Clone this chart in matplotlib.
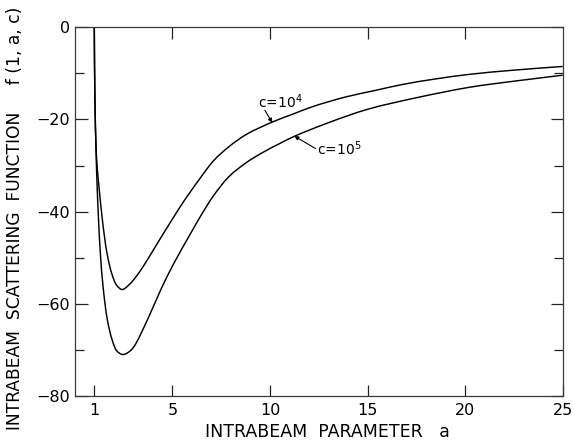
import matplotlib
matplotlib.use("Agg")
import numpy as np
import matplotlib.pyplot as plt
from matplotlib.path import Path
from matplotlib.patches import PathPatch
from matplotlib.ticker import FixedLocator

plt.rcParams['font.family'] = ['DejaVu Sans']

# f(1, a, c) versus intrabeam parameter a, for two values of c
a_c1e4 = [1.00, 1.03, 1.10, 1.16, 1.25, 1.42, 1.65, 1.90, 2.15, 2.43,
          2.75, 3.05, 3.38, 3.80, 4.23, 4.65, 5.08, 5.50, 5.94, 6.50,
          7.10, 7.90, 8.81, 10.1, 11.2, 12.2, 13.9, 15.4, 16.8, 18.5,
          20.25, 22.5, 25.0]
f_c1e4 = [0.0, -15.0, -27.0, -31.0, -35.0, -42.0, -49.0, -53.5, -56.0, -56.9,
          -56.0, -54.6, -52.7, -49.9, -46.9, -44.0, -41.1, -38.3, -35.6, -32.3,
          -29.0, -25.9, -23.2, -20.6, -18.8, -17.2, -15.1, -13.7, -12.4, -11.2,
          -10.2, -9.3, -8.5]

a_c1e5 = [1.00, 1.03, 1.09, 1.15, 1.22, 1.31, 1.45, 1.67, 1.92, 2.15,
          2.45, 2.75, 3.03, 3.72, 4.40, 5.08, 5.94, 6.50, 7.10, 7.90,
          8.81, 9.70, 10.51, 11.28, 13.0, 15.0, 17.6, 20.25, 22.5, 25.0]
f_c1e5 = [0.0, -15.0, -27.0, -35.0, -42.0, -49.0, -56.3, -63.5, -67.9, -70.2,
          -71.0, -70.5, -69.3, -63.5, -57.0, -51.2, -44.7, -40.6, -36.6, -32.4,
          -29.3, -27.0, -25.2, -23.6, -20.7, -17.8, -15.2, -13.0, -11.7, -10.4]

x_ticks = [1, 5, 10, 15, 20, 25]
x_top_ticks = [5, 10, 15, 20]
y_major = [0, -20, -40, -60, -80]
y_minor = [-10, -30, -50, -70]


def smooth_path(xs, ys, sx, sy):
    """Centripetal Catmull-Rom curve through the points, as a Bezier Path."""
    p = np.column_stack([np.asarray(xs) * sx, np.asarray(ys) * sy])
    ext = np.vstack([2 * p[0] - p[1], p, 2 * p[-1] - p[-2]])
    verts = [p[0]]
    codes = [Path.MOVETO]
    for i in range(1, len(ext) - 2):
        p0, p1, p2, p3 = ext[i - 1], ext[i], ext[i + 1], ext[i + 2]
        d1 = max(np.linalg.norm(p1 - p0), 1e-9) ** 0.5
        d2 = max(np.linalg.norm(p2 - p1), 1e-9) ** 0.5
        d3 = max(np.linalg.norm(p3 - p2), 1e-9) ** 0.5
        b1 = (d1 ** 2 * p2 - d2 ** 2 * p0 + (2 * d1 ** 2 + 3 * d1 * d2 + d2 ** 2) * p1) \
            / (3 * d1 * (d1 + d2))
        b2 = (d3 ** 2 * p1 - d2 ** 2 * p3 + (2 * d3 ** 2 + 3 * d3 * d2 + d2 ** 2) * p2) \
            / (3 * d3 * (d3 + d2))
        verts += [b1, b2, p2]
        codes += [Path.CURVE4] * 3
    verts = np.array(verts) / np.array([sx, sy])
    return Path(verts, codes)


fig = plt.figure(figsize=(5.73, 4.40), dpi=100)
ax = fig.add_axes([0.1305, 0.100, 0.8515, 0.838])
ax.set_xlim(0, 25)
ax.set_ylim(-80, 0)

# pixel-per-unit factors so the curve smoothing is done in an isotropic space
px_x, px_y = 19.5, 4.61
for xs, ys in [(a_c1e4, f_c1e4), (a_c1e5, f_c1e5)]:
    ax.add_patch(PathPatch(smooth_path(xs, ys, px_x, px_y), fill=False,
                           edgecolor='black', lw=1.05, joinstyle='round'))

ax.xaxis.set_major_locator(FixedLocator(x_ticks))
ax.set_xticklabels([str(t) for t in x_ticks])
ax.yaxis.set_major_locator(FixedLocator(y_major))
ax.yaxis.set_minor_locator(FixedLocator(y_minor))
ax.set_yticklabels([f"{t}" if t == 0 else f"\u2212{abs(t)}" for t in y_major])

ax.tick_params(axis='both', which='both', direction='in', colors='#222222',
               labelcolor='black', labelsize=11.5, width=0.9)
ax.tick_params(axis='x', which='major', length=8, pad=5, top=False)
ax.tick_params(axis='y', which='major', length=9, pad=3.5, right=True)
ax.tick_params(axis='y', which='minor', length=6.5, right=True)

# ticks along the top edge
top = ax.secondary_xaxis('top')
top.xaxis.set_major_locator(FixedLocator(x_top_ticks))
top.tick_params(direction='in', length=8.5, width=0.9, colors='#222222',
                labeltop=False)
top.spines['top'].set_visible(False)

for s in ax.spines.values():
    s.set_color('#3a3a3a')
    s.set_linewidth(0.9)

ax.set_xlabel('INTRABEAM  PARAMETER   a', fontsize=12.5, va='baseline')
ax.xaxis.set_label_coords(0.518, -0.110)
ax.set_ylabel('INTRABEAM  SCATTERING  FUNCTION     f (1, a, c)',
              fontsize=12.3, va='center', ha='center')
ax.yaxis.set_label_coords(-0.1226, 0.481)

arrow = dict(arrowstyle='-|>', lw=0.8, color='black', mutation_scale=6,
             shrinkA=0, shrinkB=0)
ax.annotate('', xy=(10.12, -20.7), xytext=(9.74, -18.0), arrowprops=arrow)
ax.text(9.39, -17.5, r'c=10$^{4}$', fontsize=10, ha='left', va='baseline')
ax.annotate('', xy=(11.25, -23.6), xytext=(12.33, -26.3), arrowprops=arrow)
ax.text(12.39, -27.7, r'c=10$^{5}$', fontsize=10, ha='left', va='baseline')

fig.savefig('out.png', dpi=100)
